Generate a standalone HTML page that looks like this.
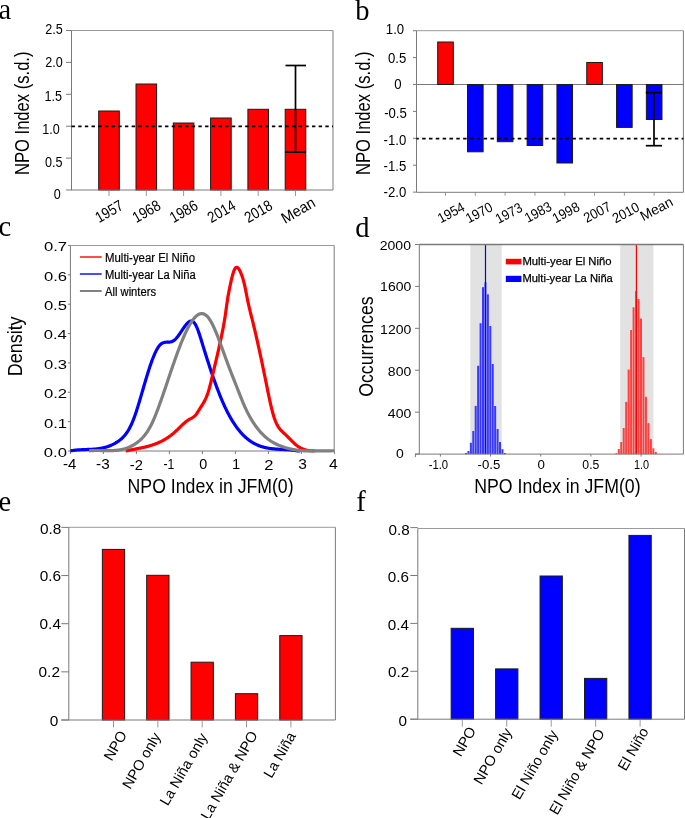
<!DOCTYPE html>
<html><head><meta charset="utf-8"><style>
html,body{margin:0;padding:0;background:#fff;width:685px;height:818px;overflow:hidden}
svg{display:block;will-change:transform}
</style></head><body>
<svg width="685" height="818" viewBox="0 0 685 818">
<rect x="0" y="0" width="685" height="818" fill="#fff"/>
<text x="-1.5" y="18.7" font-family="Liberation Serif" font-size="28.5" text-anchor="start" fill="#000">a</text>
<text x="355.2" y="19.7" font-family="Liberation Serif" font-size="28.5" text-anchor="start" fill="#000">b</text>
<text x="-1.5" y="236" font-family="Liberation Serif" font-size="28.5" text-anchor="start" fill="#000">c</text>
<text x="355.2" y="236.7" font-family="Liberation Serif" font-size="28.5" text-anchor="start" fill="#000">d</text>
<text x="-1.5" y="510.5" font-family="Liberation Serif" font-size="28.5" text-anchor="start" fill="#000">e</text>
<text x="356.2" y="510.6" font-family="Liberation Serif" font-size="28.5" text-anchor="start" fill="#000">f</text>
<line x1="71.5" y1="30.5" x2="333" y2="30.5" stroke="#9a9a9a" stroke-width="1" stroke-linecap="butt"/>
<line x1="333" y1="30.5" x2="333" y2="190" stroke="#7a7a7a" stroke-width="1" stroke-linecap="butt"/>
<line x1="71.5" y1="30.5" x2="71.5" y2="190" stroke="#7a7a7a" stroke-width="1" stroke-linecap="butt"/>
<line x1="66" y1="190.0" x2="71.5" y2="190.0" stroke="#7a7a7a" stroke-width="1" stroke-linecap="butt"/>
<text x="60.79" y="198.97" font-family="Liberation Sans" font-size="14" text-anchor="end" fill="#000" textLength="7.01" lengthAdjust="spacingAndGlyphs">0</text>
<line x1="66" y1="158.1" x2="71.5" y2="158.1" stroke="#7a7a7a" stroke-width="1" stroke-linecap="butt"/>
<text x="62.43" y="167.07" font-family="Liberation Sans" font-size="14" text-anchor="end" fill="#000" textLength="17.52" lengthAdjust="spacingAndGlyphs">0.5</text>
<line x1="66" y1="126.2" x2="71.5" y2="126.2" stroke="#7a7a7a" stroke-width="1" stroke-linecap="butt"/>
<text x="59.69" y="133.57" font-family="Liberation Sans" font-size="14" text-anchor="end" fill="#000" textLength="17.52" lengthAdjust="spacingAndGlyphs">1.0</text>
<line x1="66" y1="94.30000000000001" x2="71.5" y2="94.30000000000001" stroke="#7a7a7a" stroke-width="1" stroke-linecap="butt"/>
<text x="62.03" y="100.65" font-family="Liberation Sans" font-size="14" text-anchor="end" fill="#000" textLength="17.52" lengthAdjust="spacingAndGlyphs">1.5</text>
<line x1="66" y1="62.400000000000006" x2="71.5" y2="62.400000000000006" stroke="#7a7a7a" stroke-width="1" stroke-linecap="butt"/>
<text x="62.69" y="67.47" font-family="Liberation Sans" font-size="14" text-anchor="end" fill="#000" textLength="17.52" lengthAdjust="spacingAndGlyphs">2.0</text>
<line x1="66" y1="30.5" x2="71.5" y2="30.5" stroke="#7a7a7a" stroke-width="1" stroke-linecap="butt"/>
<text x="62.73" y="33.82" font-family="Liberation Sans" font-size="14" text-anchor="end" fill="#000" textLength="17.52" lengthAdjust="spacingAndGlyphs">2.5</text>
<rect x="98.7" y="111" width="20.6" height="79" fill="#ff0000" stroke="#1a1a1a" stroke-width="1"/>
<line x1="109.0" y1="190" x2="109.0" y2="196" stroke="#9a9a9a" stroke-width="1" stroke-linecap="butt"/>
<rect x="136.0" y="84" width="20.6" height="106" fill="#ff0000" stroke="#1a1a1a" stroke-width="1"/>
<line x1="146.3" y1="190" x2="146.3" y2="196" stroke="#9a9a9a" stroke-width="1" stroke-linecap="butt"/>
<rect x="173.29999999999998" y="123" width="20.6" height="67" fill="#ff0000" stroke="#1a1a1a" stroke-width="1"/>
<line x1="183.6" y1="190" x2="183.6" y2="196" stroke="#9a9a9a" stroke-width="1" stroke-linecap="butt"/>
<rect x="210.59999999999997" y="118" width="20.6" height="72" fill="#ff0000" stroke="#1a1a1a" stroke-width="1"/>
<line x1="220.89999999999998" y1="190" x2="220.89999999999998" y2="196" stroke="#9a9a9a" stroke-width="1" stroke-linecap="butt"/>
<rect x="247.89999999999998" y="109.3" width="20.6" height="80.7" fill="#ff0000" stroke="#1a1a1a" stroke-width="1"/>
<line x1="258.2" y1="190" x2="258.2" y2="196" stroke="#9a9a9a" stroke-width="1" stroke-linecap="butt"/>
<rect x="285.2" y="109.3" width="20.6" height="80.7" fill="#ff0000" stroke="#1a1a1a" stroke-width="1"/>
<line x1="295.5" y1="190" x2="295.5" y2="196" stroke="#9a9a9a" stroke-width="1" stroke-linecap="butt"/>
<line x1="71.0" y1="190" x2="333" y2="190" stroke="#7a7a7a" stroke-width="1" stroke-linecap="butt"/>
<line x1="71.5" y1="126.3" x2="333" y2="126.3" stroke="#000" stroke-width="1.8" stroke-dasharray="3.4,3.28" stroke-dashoffset="0" stroke-linecap="butt"/>
<line x1="295.5" y1="65.5" x2="295.5" y2="152.2" stroke="#000" stroke-width="1.7" stroke-linecap="butt"/>
<line x1="285.5" y1="65.5" x2="306" y2="65.5" stroke="#000" stroke-width="1.7" stroke-linecap="butt"/>
<line x1="285.5" y1="152.2" x2="306" y2="152.2" stroke="#000" stroke-width="1.7" stroke-linecap="butt"/>
<text x="0" y="0" transform="translate(29.2,175) rotate(-90)" font-family="Liberation Sans" font-size="21" text-anchor="start" fill="#000" textLength="123.5" lengthAdjust="spacingAndGlyphs">NPO Index (s.d.)</text>
<text x="0" y="0" transform="translate(124.5,208.5) rotate(-30)" font-family="Liberation Sans" font-size="15.5" text-anchor="end" fill="#000" textLength="29.5" lengthAdjust="spacingAndGlyphs">1957</text>
<text x="0" y="0" transform="translate(161.8,208.5) rotate(-30)" font-family="Liberation Sans" font-size="15.5" text-anchor="end" fill="#000" textLength="29.5" lengthAdjust="spacingAndGlyphs">1968</text>
<text x="0" y="0" transform="translate(199.1,208.5) rotate(-30)" font-family="Liberation Sans" font-size="15.5" text-anchor="end" fill="#000" textLength="29.5" lengthAdjust="spacingAndGlyphs">1986</text>
<text x="0" y="0" transform="translate(236.89999999999998,208.5) rotate(-30)" font-family="Liberation Sans" font-size="15.5" text-anchor="end" fill="#000" textLength="29.5" lengthAdjust="spacingAndGlyphs">2014</text>
<text x="0" y="0" transform="translate(273.7,208.5) rotate(-30)" font-family="Liberation Sans" font-size="15.5" text-anchor="end" fill="#000" textLength="29.5" lengthAdjust="spacingAndGlyphs">2018</text>
<text x="0" y="0" transform="translate(316.5,205.7) rotate(-30)" font-family="Liberation Sans" font-size="15.5" text-anchor="end" fill="#000" textLength="36.5" lengthAdjust="spacingAndGlyphs">Mean</text>
<line x1="416.5" y1="30.7" x2="683.4" y2="30.7" stroke="#9a9a9a" stroke-width="1" stroke-linecap="butt"/>
<line x1="683.4" y1="30.7" x2="683.4" y2="192.3" stroke="#7a7a7a" stroke-width="1" stroke-linecap="butt"/>
<line x1="416.5" y1="30.7" x2="416.5" y2="192.3" stroke="#7a7a7a" stroke-width="1" stroke-linecap="butt"/>
<line x1="413" y1="30.7" x2="416.5" y2="30.7" stroke="#7a7a7a" stroke-width="1" stroke-linecap="butt"/>
<text x="404.12" y="34.17" font-family="Liberation Sans" font-size="14" text-anchor="end" fill="#000" textLength="18.29" lengthAdjust="spacingAndGlyphs">1.0</text>
<line x1="413" y1="57.599999999999994" x2="416.5" y2="57.599999999999994" stroke="#7a7a7a" stroke-width="1" stroke-linecap="butt"/>
<text x="406.35" y="62.77" font-family="Liberation Sans" font-size="14" text-anchor="end" fill="#000" textLength="18.29" lengthAdjust="spacingAndGlyphs">0.5</text>
<line x1="413" y1="84.5" x2="416.5" y2="84.5" stroke="#7a7a7a" stroke-width="1" stroke-linecap="butt"/>
<text x="401.62" y="89.27" font-family="Liberation Sans" font-size="14" text-anchor="end" fill="#000" textLength="7.32" lengthAdjust="spacingAndGlyphs">0</text>
<line x1="413" y1="111.39999999999999" x2="416.5" y2="111.39999999999999" stroke="#7a7a7a" stroke-width="1" stroke-linecap="butt"/>
<text x="406.85" y="117.77" font-family="Liberation Sans" font-size="14" text-anchor="end" fill="#000" textLength="22.68" lengthAdjust="spacingAndGlyphs">-0.5</text>
<line x1="413" y1="138.29999999999998" x2="416.5" y2="138.29999999999998" stroke="#7a7a7a" stroke-width="1" stroke-linecap="butt"/>
<text x="406.22" y="144.67" font-family="Liberation Sans" font-size="14" text-anchor="end" fill="#000" textLength="22.68" lengthAdjust="spacingAndGlyphs">-1.0</text>
<line x1="413" y1="165.2" x2="416.5" y2="165.2" stroke="#7a7a7a" stroke-width="1" stroke-linecap="butt"/>
<text x="406.25" y="171.15" font-family="Liberation Sans" font-size="14" text-anchor="end" fill="#000" textLength="22.68" lengthAdjust="spacingAndGlyphs">-1.5</text>
<line x1="413" y1="192.09999999999997" x2="416.5" y2="192.09999999999997" stroke="#7a7a7a" stroke-width="1" stroke-linecap="butt"/>
<text x="406.22" y="197.22" font-family="Liberation Sans" font-size="14" text-anchor="end" fill="#000" textLength="22.68" lengthAdjust="spacingAndGlyphs">-2.0</text>
<line x1="416.5" y1="84.5" x2="683.4" y2="84.5" stroke="#7a7a7a" stroke-width="1" stroke-linecap="butt"/>
<rect x="437.7" y="42" width="15.6" height="42.5" fill="#ff0000" stroke="#1a1a1a" stroke-width="1"/>
<line x1="445.5" y1="192.3" x2="445.5" y2="195.8" stroke="#9a9a9a" stroke-width="1" stroke-linecap="butt"/>
<rect x="467.51" y="84.5" width="15.6" height="67.30000000000001" fill="#0000ff" stroke="#1a1a1a" stroke-width="1"/>
<line x1="475.31" y1="192.3" x2="475.31" y2="195.8" stroke="#9a9a9a" stroke-width="1" stroke-linecap="butt"/>
<rect x="497.32" y="84.5" width="15.6" height="57.19999999999999" fill="#0000ff" stroke="#1a1a1a" stroke-width="1"/>
<line x1="505.12" y1="192.3" x2="505.12" y2="195.8" stroke="#9a9a9a" stroke-width="1" stroke-linecap="butt"/>
<rect x="527.13" y="84.5" width="15.6" height="61.0" fill="#0000ff" stroke="#1a1a1a" stroke-width="1"/>
<line x1="534.93" y1="192.3" x2="534.93" y2="195.8" stroke="#9a9a9a" stroke-width="1" stroke-linecap="butt"/>
<rect x="556.94" y="84.5" width="15.6" height="78.5" fill="#0000ff" stroke="#1a1a1a" stroke-width="1"/>
<line x1="564.74" y1="192.3" x2="564.74" y2="195.8" stroke="#9a9a9a" stroke-width="1" stroke-linecap="butt"/>
<rect x="586.75" y="62.5" width="15.6" height="22.0" fill="#ff0000" stroke="#1a1a1a" stroke-width="1"/>
<line x1="594.55" y1="192.3" x2="594.55" y2="195.8" stroke="#9a9a9a" stroke-width="1" stroke-linecap="butt"/>
<rect x="616.5600000000001" y="84.5" width="15.6" height="42.900000000000006" fill="#0000ff" stroke="#1a1a1a" stroke-width="1"/>
<line x1="624.36" y1="192.3" x2="624.36" y2="195.8" stroke="#9a9a9a" stroke-width="1" stroke-linecap="butt"/>
<rect x="646.37" y="84.5" width="15.6" height="35.0" fill="#0000ff" stroke="#1a1a1a" stroke-width="1"/>
<line x1="654.17" y1="192.3" x2="654.17" y2="195.8" stroke="#9a9a9a" stroke-width="1" stroke-linecap="butt"/>
<line x1="416.5" y1="192.3" x2="683.4" y2="192.3" stroke="#7a7a7a" stroke-width="1" stroke-linecap="butt"/>
<line x1="416.5" y1="138.6" x2="683.4" y2="138.6" stroke="#000" stroke-width="1.8" stroke-dasharray="3.5,3.33" stroke-dashoffset="1.2" stroke-linecap="butt"/>
<line x1="654" y1="92.6" x2="654" y2="145.7" stroke="#000" stroke-width="1.7" stroke-linecap="butt"/>
<line x1="645.8" y1="92.6" x2="662" y2="92.6" stroke="#000" stroke-width="1.7" stroke-linecap="butt"/>
<line x1="645.8" y1="145.7" x2="662" y2="145.7" stroke="#000" stroke-width="1.7" stroke-linecap="butt"/>
<text x="0" y="0" transform="translate(369.6,175) rotate(-90)" font-family="Liberation Sans" font-size="21" text-anchor="start" fill="#000" textLength="123.5" lengthAdjust="spacingAndGlyphs">NPO Index (s.d.)</text>
<text x="0" y="0" transform="translate(465.8,210.1) rotate(-28)" font-family="Liberation Sans" font-size="14" text-anchor="end" fill="#000" textLength="28.5" lengthAdjust="spacingAndGlyphs">1954</text>
<text x="0" y="0" transform="translate(493.8,210.2) rotate(-28)" font-family="Liberation Sans" font-size="14" text-anchor="end" fill="#000" textLength="28.5" lengthAdjust="spacingAndGlyphs">1970</text>
<text x="0" y="0" transform="translate(523.5500000000001,210.7) rotate(-28)" font-family="Liberation Sans" font-size="14" text-anchor="end" fill="#000" textLength="28.5" lengthAdjust="spacingAndGlyphs">1973</text>
<text x="0" y="0" transform="translate(552.9,209.6) rotate(-28)" font-family="Liberation Sans" font-size="14" text-anchor="end" fill="#000" textLength="28.5" lengthAdjust="spacingAndGlyphs">1983</text>
<text x="0" y="0" transform="translate(580.7,210) rotate(-28)" font-family="Liberation Sans" font-size="14" text-anchor="end" fill="#000" textLength="28.5" lengthAdjust="spacingAndGlyphs">1998</text>
<text x="0" y="0" transform="translate(611.95,209.7) rotate(-28)" font-family="Liberation Sans" font-size="14" text-anchor="end" fill="#000" textLength="28.5" lengthAdjust="spacingAndGlyphs">2007</text>
<text x="0" y="0" transform="translate(640.65,210.2) rotate(-28)" font-family="Liberation Sans" font-size="14" text-anchor="end" fill="#000" textLength="28.5" lengthAdjust="spacingAndGlyphs">2010</text>
<text x="0" y="0" transform="translate(674.05,204.9) rotate(-28)" font-family="Liberation Sans" font-size="14" text-anchor="end" fill="#000" textLength="35" lengthAdjust="spacingAndGlyphs">Mean</text>
<clipPath id="cc"><rect x="70.4" y="245.5" width="263.79999999999995" height="207.5"/></clipPath>
<line x1="70.4" y1="245.5" x2="334.2" y2="245.5" stroke="#9a9a9a" stroke-width="1" stroke-linecap="butt"/>
<line x1="334.2" y1="245.5" x2="334.2" y2="451" stroke="#7a7a7a" stroke-width="1" stroke-linecap="butt"/>
<line x1="70.4" y1="245.5" x2="70.4" y2="451" stroke="#7a7a7a" stroke-width="1" stroke-linecap="butt"/>
<line x1="70.4" y1="451" x2="334.2" y2="451" stroke="#7a7a7a" stroke-width="1" stroke-linecap="butt"/>
<line x1="67.9" y1="451.0" x2="70.4" y2="451.0" stroke="#7a7a7a" stroke-width="1" stroke-linecap="butt"/>
<text x="66.95" y="456.91" font-family="Liberation Sans" font-size="13.4" text-anchor="end" fill="#000" textLength="23.1" lengthAdjust="spacingAndGlyphs">0.0</text>
<line x1="67.9" y1="421.64" x2="70.4" y2="421.64" stroke="#7a7a7a" stroke-width="1" stroke-linecap="butt"/>
<text x="67.12" y="427.55" font-family="Liberation Sans" font-size="13.4" text-anchor="end" fill="#000" textLength="23.1" lengthAdjust="spacingAndGlyphs">0.1</text>
<line x1="67.9" y1="392.28" x2="70.4" y2="392.28" stroke="#7a7a7a" stroke-width="1" stroke-linecap="butt"/>
<text x="67.13" y="398.19" font-family="Liberation Sans" font-size="13.4" text-anchor="end" fill="#000" textLength="23.1" lengthAdjust="spacingAndGlyphs">0.2</text>
<line x1="67.9" y1="362.92" x2="70.4" y2="362.92" stroke="#7a7a7a" stroke-width="1" stroke-linecap="butt"/>
<text x="67.03" y="368.83" font-family="Liberation Sans" font-size="13.4" text-anchor="end" fill="#000" textLength="23.1" lengthAdjust="spacingAndGlyphs">0.3</text>
<line x1="67.9" y1="333.56" x2="70.4" y2="333.56" stroke="#7a7a7a" stroke-width="1" stroke-linecap="butt"/>
<text x="66.78" y="339.47" font-family="Liberation Sans" font-size="13.4" text-anchor="end" fill="#000" textLength="23.1" lengthAdjust="spacingAndGlyphs">0.4</text>
<line x1="67.9" y1="304.2" x2="70.4" y2="304.2" stroke="#7a7a7a" stroke-width="1" stroke-linecap="butt"/>
<text x="67.0" y="310.11" font-family="Liberation Sans" font-size="13.4" text-anchor="end" fill="#000" textLength="23.1" lengthAdjust="spacingAndGlyphs">0.5</text>
<line x1="67.9" y1="274.84000000000003" x2="70.4" y2="274.84000000000003" stroke="#7a7a7a" stroke-width="1" stroke-linecap="butt"/>
<text x="67.03" y="280.75" font-family="Liberation Sans" font-size="13.4" text-anchor="end" fill="#000" textLength="23.1" lengthAdjust="spacingAndGlyphs">0.6</text>
<line x1="67.9" y1="245.48000000000002" x2="70.4" y2="245.48000000000002" stroke="#7a7a7a" stroke-width="1" stroke-linecap="butt"/>
<text x="67.13" y="251.39" font-family="Liberation Sans" font-size="13.4" text-anchor="end" fill="#000" textLength="23.1" lengthAdjust="spacingAndGlyphs">0.7</text>
<line x1="70.4" y1="451" x2="70.4" y2="454" stroke="#7a7a7a" stroke-width="1" stroke-linecap="butt"/>
<text x="69.69" y="469.45" font-family="Liberation Sans" font-size="14.4" text-anchor="middle" fill="#000" textLength="13.32" lengthAdjust="spacingAndGlyphs">-4</text>
<line x1="103.4" y1="451" x2="103.4" y2="454" stroke="#7a7a7a" stroke-width="1" stroke-linecap="butt"/>
<text x="102.9" y="469.45" font-family="Liberation Sans" font-size="14.4" text-anchor="middle" fill="#000" textLength="13.57" lengthAdjust="spacingAndGlyphs">-3</text>
<line x1="136.4" y1="451" x2="136.4" y2="454" stroke="#7a7a7a" stroke-width="1" stroke-linecap="butt"/>
<text x="136.4" y="469.53" font-family="Liberation Sans" font-size="14.4" text-anchor="middle" fill="#000" textLength="13.06" lengthAdjust="spacingAndGlyphs">-2</text>
<line x1="169.4" y1="451" x2="169.4" y2="454" stroke="#7a7a7a" stroke-width="1" stroke-linecap="butt"/>
<text x="168.83" y="469.45" font-family="Liberation Sans" font-size="14.4" text-anchor="middle" fill="#000" textLength="10.88" lengthAdjust="spacingAndGlyphs">-1</text>
<line x1="202.4" y1="451" x2="202.4" y2="454" stroke="#7a7a7a" stroke-width="1" stroke-linecap="butt"/>
<text x="203.15" y="469.45" font-family="Liberation Sans" font-size="14.4" text-anchor="middle" fill="#000" textLength="8.01" lengthAdjust="spacingAndGlyphs">0</text>
<line x1="235.4" y1="451" x2="235.4" y2="454" stroke="#7a7a7a" stroke-width="1" stroke-linecap="butt"/>
<text x="236.1" y="469.45" font-family="Liberation Sans" font-size="14.4" text-anchor="middle" fill="#000" textLength="8.25" lengthAdjust="spacingAndGlyphs">1</text>
<line x1="268.4" y1="451" x2="268.4" y2="454" stroke="#7a7a7a" stroke-width="1" stroke-linecap="butt"/>
<text x="268.9" y="469.53" font-family="Liberation Sans" font-size="14.4" text-anchor="middle" fill="#000" textLength="9.21" lengthAdjust="spacingAndGlyphs">2</text>
<line x1="301.4" y1="451" x2="301.4" y2="454" stroke="#7a7a7a" stroke-width="1" stroke-linecap="butt"/>
<text x="302.45" y="469.45" font-family="Liberation Sans" font-size="14.4" text-anchor="middle" fill="#000" textLength="8.65" lengthAdjust="spacingAndGlyphs">3</text>
<line x1="334.4" y1="451" x2="334.4" y2="454" stroke="#7a7a7a" stroke-width="1" stroke-linecap="butt"/>
<text x="333.4" y="469.45" font-family="Liberation Sans" font-size="14.4" text-anchor="middle" fill="#000" textLength="8.73" lengthAdjust="spacingAndGlyphs">4</text>
<g clip-path="url(#cc)" fill="none" stroke-width="3.2" stroke-linejoin="round">
<path d="M70.00,450.80 L70.50,450.80 L71.00,450.78 L71.50,450.69 L72.00,450.61 L72.50,450.53 L73.00,450.46 L73.50,450.39 L74.00,450.32 L74.50,450.26 L75.00,450.20 L75.50,450.15 L76.00,450.10 L76.50,450.05 L77.00,450.00 L77.50,449.96 L78.00,449.92 L78.50,449.89 L79.00,449.85 L79.50,449.82 L80.00,449.79 L80.50,449.76 L81.00,449.73 L81.50,449.71 L82.00,449.68 L82.50,449.66 L83.00,449.64 L83.50,449.62 L84.00,449.60 L84.50,449.58 L85.00,449.56 L85.50,449.55 L86.00,449.53 L86.50,449.51 L87.00,449.49 L87.50,449.47 L88.00,449.45 L88.50,449.43 L89.00,449.41 L89.50,449.39 L90.00,449.37 L90.50,449.35 L91.00,449.32 L91.50,449.29 L92.00,449.27 L92.50,449.24 L93.00,449.20 L93.50,449.17 L94.00,449.13 L94.50,449.09 L95.00,449.05 L95.50,449.00 L96.00,448.96 L96.50,448.90 L97.00,448.85 L97.50,448.79 L98.00,448.73 L98.50,448.66 L99.00,448.59 L99.50,448.52 L100.00,448.44 L100.50,448.36 L101.00,448.27 L101.50,448.18 L102.00,448.08 L102.50,447.98 L103.00,447.87 L103.50,447.76 L104.00,447.64 L104.50,447.52 L105.00,447.39 L105.50,447.25 L106.00,447.11 L106.50,446.96 L107.00,446.81 L107.50,446.65 L108.00,446.48 L108.50,446.30 L109.00,446.12 L109.50,445.93 L110.00,445.73 L110.50,445.53 L111.00,445.31 L111.50,445.09 L112.00,444.86 L112.50,444.63 L113.00,444.38 L113.50,444.13 L114.00,443.86 L114.50,443.59 L115.00,443.31 L115.50,443.02 L116.00,442.72 L116.50,442.41 L117.00,442.09 L117.50,441.76 L118.00,441.42 L118.50,441.08 L119.00,440.72 L119.50,440.34 L120.00,439.96 L120.50,439.55 L121.00,439.14 L121.50,438.70 L122.00,438.24 L122.50,437.77 L123.00,437.27 L123.50,436.75 L124.00,436.20 L124.50,435.63 L125.00,435.03 L125.50,434.40 L126.00,433.75 L126.50,433.06 L127.00,432.34 L127.50,431.59 L128.00,430.80 L128.50,429.97 L129.00,429.11 L129.50,428.20 L130.00,427.26 L130.50,426.28 L131.00,425.25 L131.50,424.18 L132.00,423.06 L132.50,421.90 L133.00,420.68 L133.50,419.42 L134.00,418.11 L134.50,416.75 L135.00,415.34 L135.50,413.90 L136.00,412.41 L136.50,410.89 L137.00,409.34 L137.50,407.75 L138.00,406.14 L138.50,404.51 L139.00,402.85 L139.50,401.18 L140.00,399.49 L140.50,397.79 L141.00,396.09 L141.50,394.37 L142.00,392.66 L142.50,390.94 L143.00,389.22 L143.50,387.51 L144.00,385.80 L144.50,384.10 L145.00,382.41 L145.50,380.72 L146.00,379.05 L146.50,377.39 L147.00,375.75 L147.50,374.13 L148.00,372.52 L148.50,370.94 L149.00,369.38 L149.50,367.85 L150.00,366.34 L150.50,364.87 L151.00,363.42 L151.50,362.01 L152.00,360.63 L152.50,359.29 L153.00,357.99 L153.50,356.73 L154.00,355.52 L154.50,354.34 L155.00,353.22 L155.50,352.14 L156.00,351.11 L156.50,350.14 L157.00,349.21 L157.50,348.35 L158.00,347.54 L158.50,346.80 L159.00,346.11 L159.50,345.49 L160.00,344.93 L160.50,344.44 L161.00,344.02 L161.50,343.65 L162.00,343.33 L162.50,343.07 L163.00,342.85 L163.50,342.67 L164.00,342.53 L164.50,342.42 L165.00,342.34 L165.50,342.28 L166.00,342.23 L166.50,342.20 L167.00,342.18 L167.50,342.17 L168.00,342.16 L168.50,342.14 L169.00,342.11 L169.50,342.07 L170.00,342.01 L170.50,341.93 L171.00,341.82 L171.50,341.69 L172.00,341.51 L172.50,341.30 L173.00,341.04 L173.50,340.73 L174.00,340.38 L174.50,339.98 L175.00,339.54 L175.50,339.06 L176.00,338.54 L176.50,337.99 L177.00,337.40 L177.50,336.79 L178.00,336.15 L178.50,335.49 L179.00,334.81 L179.50,334.11 L180.00,333.39 L180.50,332.66 L181.00,331.92 L181.50,331.18 L182.00,330.43 L182.50,329.67 L183.00,328.92 L183.50,328.18 L184.00,327.45 L184.50,326.74 L185.00,326.04 L185.50,325.37 L186.00,324.74 L186.50,324.14 L187.00,323.57 L187.50,323.06 L188.00,322.59 L188.50,322.17 L189.00,321.82 L189.50,321.52 L190.00,321.30 L190.50,321.15 L191.00,321.07 L191.50,321.08 L192.00,321.17 L192.50,321.36 L193.00,321.64 L193.50,322.02 L194.00,322.51 L194.50,323.11 L195.00,323.82 L195.50,324.65 L196.00,325.59 L196.50,326.64 L197.00,327.77 L197.50,329.00 L198.00,330.30 L198.50,331.68 L199.00,333.11 L199.50,334.60 L200.00,336.14 L200.50,337.71 L201.00,339.31 L201.50,340.94 L202.00,342.57 L202.50,344.21 L203.00,345.85 L203.50,347.48 L204.00,349.10 L204.50,350.71 L205.00,352.32 L205.50,353.92 L206.00,355.51 L206.50,357.09 L207.00,358.67 L207.50,360.23 L208.00,361.78 L208.50,363.33 L209.00,364.86 L209.50,366.38 L210.00,367.90 L210.50,369.40 L211.00,370.89 L211.50,372.37 L212.00,373.84 L212.50,375.30 L213.00,376.74 L213.50,378.17 L214.00,379.59 L214.50,381.00 L215.00,382.39 L215.50,383.77 L216.00,385.14 L216.50,386.49 L217.00,387.83 L217.50,389.15 L218.00,390.46 L218.50,391.76 L219.00,393.03 L219.50,394.30 L220.00,395.54 L220.50,396.78 L221.00,397.99 L221.50,399.19 L222.00,400.37 L222.50,401.53 L223.00,402.68 L223.50,403.81 L224.00,404.92 L224.50,406.01 L225.00,407.08 L225.50,408.14 L226.00,409.18 L226.50,410.20 L227.00,411.20 L227.50,412.18 L228.00,413.15 L228.50,414.10 L229.00,415.03 L229.50,415.95 L230.00,416.85 L230.50,417.73 L231.00,418.60 L231.50,419.44 L232.00,420.28 L232.50,421.10 L233.00,421.90 L233.50,422.68 L234.00,423.45 L234.50,424.21 L235.00,424.95 L235.50,425.67 L236.00,426.38 L236.50,427.07 L237.00,427.76 L237.50,428.42 L238.00,429.07 L238.50,429.71 L239.00,430.33 L239.50,430.94 L240.00,431.54 L240.50,432.12 L241.00,432.69 L241.50,433.25 L242.00,433.79 L242.50,434.32 L243.00,434.84 L243.50,435.35 L244.00,435.84 L244.50,436.32 L245.00,436.79 L245.50,437.25 L246.00,437.69 L246.50,438.12 L247.00,438.55 L247.50,438.96 L248.00,439.36 L248.50,439.75 L249.00,440.13 L249.50,440.49 L250.00,440.85 L250.50,441.20 L251.00,441.54 L251.50,441.86 L252.00,442.18 L252.50,442.49 L253.00,442.79 L253.50,443.08 L254.00,443.36 L254.50,443.63 L255.00,443.89 L255.50,444.14 L256.00,444.39 L256.50,444.63 L257.00,444.86 L257.50,445.08 L258.00,445.29 L258.50,445.49 L259.00,445.69 L259.50,445.88 L260.00,446.06 L260.50,446.24 L261.00,446.41 L261.50,446.57 L262.00,446.73 L262.50,446.88 L263.00,447.02 L263.50,447.16 L264.00,447.29 L264.50,447.41 L265.00,447.53 L265.50,447.65 L266.00,447.76 L266.50,447.86 L267.00,447.96 L267.50,448.05 L268.00,448.14 L268.50,448.23 L269.00,448.31 L269.50,448.38 L270.00,448.46 L270.50,448.53 L271.00,448.59 L271.50,448.65 L272.00,448.71 L272.50,448.76 L273.00,448.82 L273.50,448.86 L274.00,448.91 L274.50,448.95 L275.00,449.00 L275.50,449.03 L276.00,449.07 L276.50,449.11 L277.00,449.14 L277.50,449.17 L278.00,449.20 L278.50,449.23 L279.00,449.26 L279.50,449.28 L280.00,449.31 L280.50,449.33 L281.00,449.36 L281.50,449.38 L282.00,449.41 L282.50,449.43 L283.00,449.46 L283.50,449.48 L284.00,449.50 L284.50,449.53 L285.00,449.56 L285.50,449.58 L286.00,449.61 L286.50,449.64 L287.00,449.67 L287.50,449.71 L288.00,449.74 L288.50,449.78 L289.00,449.82 L289.50,449.86 L290.00,449.90 L290.50,449.95 L291.00,449.99 L291.50,450.05 L292.00,450.10 L292.50,450.16 L293.00,450.22 L293.50,450.28 L294.00,450.35 L294.50,450.42 L295.00,450.50 L295.50,450.58 L296.00,450.66 L296.50,450.75 L297.00,450.80 L297.50,450.80 L298.00,450.80 L298.50,450.80 L299.00,450.80 L299.50,450.80 L300.00,450.80" stroke="#0000ff"/>
<path d="M125.80,450.80 L126.30,450.80 L126.80,450.77 L127.30,450.66 L127.80,450.56 L128.30,450.45 L128.80,450.35 L129.30,450.24 L129.80,450.14 L130.30,450.04 L130.80,449.94 L131.30,449.84 L131.80,449.74 L132.30,449.65 L132.80,449.55 L133.30,449.45 L133.80,449.36 L134.30,449.26 L134.80,449.16 L135.30,449.07 L135.80,448.97 L136.30,448.88 L136.80,448.78 L137.30,448.68 L137.80,448.58 L138.30,448.49 L138.80,448.39 L139.30,448.29 L139.80,448.19 L140.30,448.08 L140.80,447.98 L141.30,447.88 L141.80,447.77 L142.30,447.66 L142.80,447.55 L143.30,447.44 L143.80,447.33 L144.30,447.21 L144.80,447.10 L145.30,446.98 L145.80,446.85 L146.30,446.73 L146.80,446.60 L147.30,446.48 L147.80,446.34 L148.30,446.21 L148.80,446.07 L149.30,445.93 L149.80,445.79 L150.30,445.64 L150.80,445.49 L151.30,445.33 L151.80,445.18 L152.30,445.01 L152.80,444.85 L153.30,444.68 L153.80,444.51 L154.30,444.33 L154.80,444.15 L155.30,443.96 L155.80,443.77 L156.30,443.57 L156.80,443.37 L157.30,443.17 L157.80,442.96 L158.30,442.75 L158.80,442.53 L159.30,442.30 L159.80,442.07 L160.30,441.83 L160.80,441.59 L161.30,441.34 L161.80,441.09 L162.30,440.83 L162.80,440.57 L163.30,440.30 L163.80,440.02 L164.30,439.74 L164.80,439.44 L165.30,439.15 L165.80,438.84 L166.30,438.53 L166.80,438.22 L167.30,437.89 L167.80,437.56 L168.30,437.22 L168.80,436.88 L169.30,436.52 L169.80,436.16 L170.30,435.79 L170.80,435.42 L171.30,435.03 L171.80,434.64 L172.30,434.24 L172.80,433.83 L173.30,433.42 L173.80,432.99 L174.30,432.56 L174.80,432.12 L175.30,431.67 L175.80,431.21 L176.30,430.74 L176.80,430.26 L177.30,429.78 L177.80,429.30 L178.30,428.81 L178.80,428.32 L179.30,427.83 L179.80,427.34 L180.30,426.85 L180.80,426.36 L181.30,425.88 L181.80,425.40 L182.30,424.92 L182.80,424.45 L183.30,423.99 L183.80,423.54 L184.30,423.10 L184.80,422.67 L185.30,422.25 L185.80,421.84 L186.30,421.45 L186.80,421.07 L187.30,420.71 L187.80,420.37 L188.30,420.04 L188.80,419.74 L189.30,419.45 L189.80,419.17 L190.30,418.89 L190.80,418.62 L191.30,418.34 L191.80,418.05 L192.30,417.75 L192.80,417.43 L193.30,417.08 L193.80,416.70 L194.30,416.28 L194.80,415.82 L195.30,415.32 L195.80,414.76 L196.30,414.15 L196.80,413.48 L197.30,412.76 L197.80,412.00 L198.30,411.20 L198.80,410.39 L199.30,409.56 L199.80,408.74 L200.30,407.93 L200.80,407.14 L201.30,406.35 L201.80,405.57 L202.30,404.78 L202.80,403.97 L203.30,403.14 L203.80,402.28 L204.30,401.38 L204.80,400.43 L205.30,399.43 L205.80,398.36 L206.30,397.22 L206.80,395.99 L207.30,394.68 L207.80,393.27 L208.30,391.75 L208.80,390.11 L209.30,388.36 L209.80,386.51 L210.30,384.56 L210.80,382.55 L211.30,380.48 L211.80,378.38 L212.30,376.25 L212.80,374.13 L213.30,372.01 L213.80,369.91 L214.30,367.81 L214.80,365.71 L215.30,363.61 L215.80,361.50 L216.30,359.39 L216.80,357.26 L217.30,355.12 L217.80,352.96 L218.30,350.78 L218.80,348.58 L219.30,346.34 L219.80,344.08 L220.30,341.78 L220.80,339.44 L221.30,337.06 L221.80,334.63 L222.30,332.16 L222.80,329.64 L223.30,327.04 L223.80,324.33 L224.30,321.48 L224.80,318.43 L225.30,315.16 L225.80,311.64 L226.30,308.00 L226.80,304.38 L227.30,300.92 L227.80,297.76 L228.30,294.87 L228.80,292.19 L229.30,289.63 L229.80,287.14 L230.30,284.72 L230.80,282.39 L231.30,280.16 L231.80,278.05 L232.30,276.09 L232.80,274.28 L233.30,272.64 L233.80,271.20 L234.30,269.98 L234.80,268.98 L235.30,268.22 L235.80,267.71 L236.30,267.42 L236.80,267.35 L237.30,267.47 L237.80,267.78 L238.30,268.27 L238.80,268.91 L239.30,269.70 L239.80,270.63 L240.30,271.67 L240.80,272.82 L241.30,274.06 L241.80,275.39 L242.30,276.82 L242.80,278.38 L243.30,280.06 L243.80,281.89 L244.30,283.88 L244.80,286.04 L245.30,288.38 L245.80,290.88 L246.30,293.46 L246.80,296.06 L247.30,298.62 L247.80,301.08 L248.30,303.43 L248.80,305.68 L249.30,307.84 L249.80,309.94 L250.30,311.99 L250.80,314.00 L251.30,315.99 L251.80,317.97 L252.30,319.95 L252.80,321.96 L253.30,323.99 L253.80,326.05 L254.30,328.12 L254.80,330.22 L255.30,332.35 L255.80,334.49 L256.30,336.66 L256.80,338.85 L257.30,341.06 L257.80,343.29 L258.30,345.54 L258.80,347.81 L259.30,350.10 L259.80,352.40 L260.30,354.72 L260.80,357.06 L261.30,359.41 L261.80,361.78 L262.30,364.17 L262.80,366.56 L263.30,368.97 L263.80,371.39 L264.30,373.83 L264.80,376.27 L265.30,378.73 L265.80,381.19 L266.30,383.67 L266.80,386.14 L267.30,388.61 L267.80,391.06 L268.30,393.49 L268.80,395.89 L269.30,398.26 L269.80,400.57 L270.30,402.83 L270.80,405.03 L271.30,407.16 L271.80,409.21 L272.30,411.17 L272.80,413.04 L273.30,414.80 L273.80,416.46 L274.30,418.00 L274.80,419.43 L275.30,420.76 L275.80,421.98 L276.30,423.12 L276.80,424.17 L277.30,425.14 L277.80,426.03 L278.30,426.86 L278.80,427.62 L279.30,428.33 L279.80,428.98 L280.30,429.59 L280.80,430.16 L281.30,430.69 L281.80,431.20 L282.30,431.69 L282.80,432.16 L283.30,432.62 L283.80,433.07 L284.30,433.53 L284.80,433.99 L285.30,434.47 L285.80,434.95 L286.30,435.44 L286.80,435.93 L287.30,436.43 L287.80,436.93 L288.30,437.44 L288.80,437.95 L289.30,438.46 L289.80,438.97 L290.30,439.47 L290.80,439.98 L291.30,440.48 L291.80,440.98 L292.30,441.47 L292.80,441.96 L293.30,442.43 L293.80,442.90 L294.30,443.36 L294.80,443.81 L295.30,444.25 L295.80,444.67 L296.30,445.08 L296.80,445.48 L297.30,445.86 L297.80,446.22 L298.30,446.57 L298.80,446.90 L299.30,447.22 L299.80,447.52 L300.30,447.80 L300.80,448.07 L301.30,448.32 L301.80,448.56 L302.30,448.79 L302.80,449.00 L303.30,449.20 L303.80,449.38 L304.30,449.55 L304.80,449.71 L305.30,449.86 L305.80,450.00 L306.30,450.12 L306.80,450.23 L307.30,450.33 L307.80,450.43 L308.30,450.51 L308.80,450.58 L309.30,450.64 L309.80,450.69 L310.30,450.73 L310.80,450.77 L311.30,450.79 L311.80,450.80 L312.30,450.80 L312.80,450.80 L313.30,450.80 L313.80,450.80 L314.30,450.78 L314.80,450.76" stroke="#ff0000"/>
<path d="M89.00,450.80 L89.50,450.78 L90.00,450.74 L90.50,450.70 L91.00,450.66 L91.50,450.63 L92.00,450.60 L92.50,450.58 L93.00,450.56 L93.50,450.54 L94.00,450.53 L94.50,450.52 L95.00,450.51 L95.50,450.50 L96.00,450.49 L96.50,450.49 L97.00,450.49 L97.50,450.49 L98.00,450.50 L98.50,450.50 L99.00,450.51 L99.50,450.51 L100.00,450.52 L100.50,450.53 L101.00,450.54 L101.50,450.55 L102.00,450.56 L102.50,450.57 L103.00,450.58 L103.50,450.59 L104.00,450.60 L104.50,450.61 L105.00,450.62 L105.50,450.63 L106.00,450.64 L106.50,450.64 L107.00,450.65 L107.50,450.65 L108.00,450.66 L108.50,450.66 L109.00,450.66 L109.50,450.65 L110.00,450.65 L110.50,450.64 L111.00,450.63 L111.50,450.62 L112.00,450.60 L112.50,450.58 L113.00,450.56 L113.50,450.53 L114.00,450.50 L114.50,450.47 L115.00,450.44 L115.50,450.40 L116.00,450.35 L116.50,450.30 L117.00,450.25 L117.50,450.19 L118.00,450.13 L118.50,450.06 L119.00,449.99 L119.50,449.91 L120.00,449.83 L120.50,449.74 L121.00,449.64 L121.50,449.54 L122.00,449.44 L122.50,449.32 L123.00,449.20 L123.50,449.08 L124.00,448.95 L124.50,448.81 L125.00,448.66 L125.50,448.51 L126.00,448.35 L126.50,448.18 L127.00,448.00 L127.50,447.82 L128.00,447.63 L128.50,447.43 L129.00,447.22 L129.50,447.00 L130.00,446.78 L130.50,446.54 L131.00,446.30 L131.50,446.05 L132.00,445.79 L132.50,445.52 L133.00,445.23 L133.50,444.94 L134.00,444.64 L134.50,444.33 L135.00,444.01 L135.50,443.68 L136.00,443.34 L136.50,442.99 L137.00,442.63 L137.50,442.25 L138.00,441.87 L138.50,441.47 L139.00,441.06 L139.50,440.64 L140.00,440.20 L140.50,439.74 L141.00,439.27 L141.50,438.79 L142.00,438.28 L142.50,437.76 L143.00,437.22 L143.50,436.65 L144.00,436.07 L144.50,435.46 L145.00,434.84 L145.50,434.19 L146.00,433.51 L146.50,432.81 L147.00,432.09 L147.50,431.33 L148.00,430.55 L148.50,429.75 L149.00,428.91 L149.50,428.05 L150.00,427.15 L150.50,426.22 L151.00,425.26 L151.50,424.27 L152.00,423.24 L152.50,422.19 L153.00,421.10 L153.50,419.98 L154.00,418.83 L154.50,417.66 L155.00,416.46 L155.50,415.23 L156.00,413.98 L156.50,412.71 L157.00,411.42 L157.50,410.10 L158.00,408.77 L158.50,407.42 L159.00,406.06 L159.50,404.68 L160.00,403.29 L160.50,401.88 L161.00,400.47 L161.50,399.04 L162.00,397.61 L162.50,396.17 L163.00,394.72 L163.50,393.26 L164.00,391.80 L164.50,390.34 L165.00,388.87 L165.50,387.40 L166.00,385.92 L166.50,384.44 L167.00,382.96 L167.50,381.48 L168.00,380.00 L168.50,378.52 L169.00,377.04 L169.50,375.56 L170.00,374.09 L170.50,372.61 L171.00,371.14 L171.50,369.68 L172.00,368.21 L172.50,366.76 L173.00,365.31 L173.50,363.87 L174.00,362.43 L174.50,361.00 L175.00,359.58 L175.50,358.17 L176.00,356.77 L176.50,355.39 L177.00,354.01 L177.50,352.64 L178.00,351.29 L178.50,349.95 L179.00,348.62 L179.50,347.31 L180.00,346.01 L180.50,344.73 L181.00,343.46 L181.50,342.21 L182.00,340.98 L182.50,339.77 L183.00,338.58 L183.50,337.40 L184.00,336.25 L184.50,335.12 L185.00,334.01 L185.50,332.92 L186.00,331.85 L186.50,330.81 L187.00,329.79 L187.50,328.79 L188.00,327.82 L188.50,326.88 L189.00,325.97 L189.50,325.08 L190.00,324.22 L190.50,323.38 L191.00,322.58 L191.50,321.81 L192.00,321.06 L192.50,320.35 L193.00,319.67 L193.50,319.02 L194.00,318.41 L194.50,317.83 L195.00,317.28 L195.50,316.77 L196.00,316.30 L196.50,315.86 L197.00,315.45 L197.50,315.09 L198.00,314.76 L198.50,314.48 L199.00,314.23 L199.50,314.02 L200.00,313.85 L200.50,313.73 L201.00,313.64 L201.50,313.60 L202.00,313.60 L202.50,313.65 L203.00,313.74 L203.50,313.88 L204.00,314.06 L204.50,314.29 L205.00,314.57 L205.50,314.89 L206.00,315.26 L206.50,315.68 L207.00,316.16 L207.50,316.68 L208.00,317.25 L208.50,317.87 L209.00,318.55 L209.50,319.27 L210.00,320.03 L210.50,320.85 L211.00,321.70 L211.50,322.59 L212.00,323.53 L212.50,324.50 L213.00,325.51 L213.50,326.55 L214.00,327.62 L214.50,328.73 L215.00,329.87 L215.50,331.03 L216.00,332.22 L216.50,333.43 L217.00,334.67 L217.50,335.93 L218.00,337.21 L218.50,338.51 L219.00,339.82 L219.50,341.15 L220.00,342.49 L220.50,343.84 L221.00,345.20 L221.50,346.58 L222.00,347.95 L222.50,349.34 L223.00,350.72 L223.50,352.11 L224.00,353.50 L224.50,354.89 L225.00,356.27 L225.50,357.65 L226.00,359.02 L226.50,360.38 L227.00,361.74 L227.50,363.08 L228.00,364.42 L228.50,365.75 L229.00,367.07 L229.50,368.38 L230.00,369.68 L230.50,370.98 L231.00,372.27 L231.50,373.56 L232.00,374.84 L232.50,376.12 L233.00,377.39 L233.50,378.66 L234.00,379.93 L234.50,381.20 L235.00,382.46 L235.50,383.73 L236.00,384.99 L236.50,386.25 L237.00,387.51 L237.50,388.78 L238.00,390.04 L238.50,391.31 L239.00,392.58 L239.50,393.85 L240.00,395.13 L240.50,396.40 L241.00,397.67 L241.50,398.93 L242.00,400.18 L242.50,401.41 L243.00,402.62 L243.50,403.81 L244.00,404.97 L244.50,406.10 L245.00,407.21 L245.50,408.29 L246.00,409.35 L246.50,410.39 L247.00,411.41 L247.50,412.40 L248.00,413.37 L248.50,414.32 L249.00,415.25 L249.50,416.17 L250.00,417.06 L250.50,417.94 L251.00,418.80 L251.50,419.64 L252.00,420.47 L252.50,421.27 L253.00,422.07 L253.50,422.84 L254.00,423.60 L254.50,424.34 L255.00,425.07 L255.50,425.78 L256.00,426.47 L256.50,427.15 L257.00,427.82 L257.50,428.47 L258.00,429.10 L258.50,429.72 L259.00,430.33 L259.50,430.92 L260.00,431.50 L260.50,432.07 L261.00,432.62 L261.50,433.16 L262.00,433.68 L262.50,434.20 L263.00,434.70 L263.50,435.18 L264.00,435.66 L264.50,436.12 L265.00,436.58 L265.50,437.02 L266.00,437.45 L266.50,437.87 L267.00,438.27 L267.50,438.67 L268.00,439.06 L268.50,439.44 L269.00,439.80 L269.50,440.16 L270.00,440.51 L270.50,440.84 L271.00,441.17 L271.50,441.49 L272.00,441.81 L272.50,442.11 L273.00,442.40 L273.50,442.69 L274.00,442.97 L274.50,443.24 L275.00,443.50 L275.50,443.76 L276.00,444.01 L276.50,444.25 L277.00,444.49 L277.50,444.72 L278.00,444.94 L278.50,445.16 L279.00,445.37 L279.50,445.58 L280.00,445.78 L280.50,445.97 L281.00,446.16 L281.50,446.35 L282.00,446.53 L282.50,446.71 L283.00,446.88 L283.50,447.05 L284.00,447.22 L284.50,447.38 L285.00,447.53 L285.50,447.68 L286.00,447.83 L286.50,447.97 L287.00,448.11 L287.50,448.25 L288.00,448.38 L288.50,448.51 L289.00,448.63 L289.50,448.75 L290.00,448.87 L290.50,448.98 L291.00,449.09 L291.50,449.19 L292.00,449.30 L292.50,449.40 L293.00,449.49 L293.50,449.58 L294.00,449.67 L294.50,449.76 L295.00,449.84 L295.50,449.92 L296.00,449.99 L296.50,450.07 L297.00,450.14 L297.50,450.20 L298.00,450.27 L298.50,450.33 L299.00,450.39 L299.50,450.44 L300.00,450.50 L300.50,450.55 L301.00,450.59 L301.50,450.64 L302.00,450.68 L302.50,450.72 L303.00,450.76 L303.50,450.80 L304.00,450.80 L304.50,450.80 L305.00,450.80 L305.50,450.80 L306.00,450.80 L306.50,450.80 L307.00,450.80 L307.50,450.80 L308.00,450.80 L308.50,450.80 L309.00,450.80 L309.50,450.80 L310.00,450.80 L310.50,450.80 L311.00,450.80 L311.50,450.80 L312.00,450.80 L312.50,450.80 L313.00,450.80 L313.50,450.80 L314.00,450.80 L314.50,450.80 L315.00,450.80 L315.50,450.80 L316.00,450.80 L316.50,450.80 L317.00,450.80 L317.50,450.80 L318.00,450.80 L318.50,450.80 L319.00,450.80 L319.50,450.80 L320.00,450.80 L320.50,450.80 L321.00,450.80 L321.50,450.80 L322.00,450.80 L322.50,450.80 L323.00,450.80 L323.50,450.80 L324.00,450.80 L324.50,450.80 L325.00,450.80 L325.50,450.80 L326.00,450.80 L326.50,450.80 L327.00,450.80 L327.50,450.80 L328.00,450.80 L328.50,450.80 L329.00,450.80 L329.50,450.80 L330.00,450.80 L330.50,450.79 L331.00,450.78 L331.50,450.77 L332.00,450.76 L332.50,450.76 L333.00,450.75 L333.50,450.74 L334.00,450.74 L334.50,450.73 L335.00,450.73 L335.50,450.73 L336.00,450.73" stroke="#808080"/>
</g>
<line x1="79.9" y1="257" x2="101.7" y2="257" stroke="#ff2020" stroke-width="1.6" stroke-linecap="butt"/>
<text x="105" y="261.6" font-family="Liberation Sans" font-size="12" text-anchor="start" fill="#000" textLength="90.0" lengthAdjust="spacingAndGlyphs" stroke="#000" stroke-width="0.2">Multi-year El Niño</text>
<line x1="79.9" y1="274" x2="101.7" y2="274" stroke="#2020ff" stroke-width="1.6" stroke-linecap="butt"/>
<text x="105" y="278.6" font-family="Liberation Sans" font-size="12" text-anchor="start" fill="#000" textLength="90.7" lengthAdjust="spacingAndGlyphs" stroke="#000" stroke-width="0.2">Multi-year La Niña</text>
<line x1="79.9" y1="291" x2="101.7" y2="291" stroke="#808080" stroke-width="2" stroke-linecap="butt"/>
<text x="105" y="295.6" font-family="Liberation Sans" font-size="12" text-anchor="start" fill="#000" textLength="51.0" lengthAdjust="spacingAndGlyphs" stroke="#000" stroke-width="0.2">All winters</text>
<text x="0" y="0" transform="translate(22.2,376.2) rotate(-90)" font-family="Liberation Sans" font-size="20" text-anchor="start" fill="#000" textLength="59.8" lengthAdjust="spacingAndGlyphs">Density</text>
<text x="127.6" y="492.6" font-family="Liberation Sans" font-size="20" text-anchor="start" fill="#000" textLength="166" lengthAdjust="spacingAndGlyphs">NPO Index in JFM(0)</text>
<rect x="470.3" y="244.5" width="31.4" height="209.60000000000002" fill="#e2e2e2"/>
<rect x="620.2" y="244.5" width="33.2" height="209.60000000000002" fill="#e2e2e2"/>
<rect x="465.0" y="453" width="2.0" height="1.1000000000000227" fill="#3838ff"/>
<rect x="467.43" y="451" width="2.0" height="3.1000000000000227" fill="#3838ff"/>
<rect x="469.86" y="442.8" width="2.0" height="11.300000000000011" fill="#3838ff"/>
<rect x="472.29" y="431" width="2.0" height="23.100000000000023" fill="#3838ff"/>
<rect x="474.72" y="405.9" width="2.0" height="48.200000000000045" fill="#3838ff"/>
<rect x="477.15" y="365.8" width="2.0" height="88.30000000000001" fill="#3838ff"/>
<rect x="479.58" y="323.2" width="2.0" height="130.90000000000003" fill="#3838ff"/>
<rect x="482.01" y="287.2" width="2.0" height="166.90000000000003" fill="#3838ff"/>
<rect x="484.44" y="282.3" width="2.0" height="171.8" fill="#3838ff"/>
<rect x="486.87" y="294.3" width="2.0" height="159.8" fill="#3838ff"/>
<rect x="489.3" y="326" width="2.0" height="128.10000000000002" fill="#3838ff"/>
<rect x="491.73" y="364" width="2.0" height="90.10000000000002" fill="#3838ff"/>
<rect x="494.16" y="406" width="2.0" height="48.10000000000002" fill="#3838ff"/>
<rect x="496.59000000000003" y="429" width="2.0" height="25.100000000000023" fill="#3838ff"/>
<rect x="499.02" y="442" width="2.0" height="12.100000000000023" fill="#3838ff"/>
<rect x="501.45" y="449.2" width="2.0" height="4.900000000000034" fill="#3838ff"/>
<rect x="503.88" y="453" width="2.0" height="1.1000000000000227" fill="#3838ff"/>
<rect x="615.3" y="453.3" width="2.0" height="0.8000000000000114" fill="#ff4040"/>
<rect x="617.77" y="449" width="2.0" height="5.100000000000023" fill="#ff4040"/>
<rect x="620.24" y="442" width="2.0" height="12.100000000000023" fill="#ff4040"/>
<rect x="622.7099999999999" y="428" width="2.0" height="26.100000000000023" fill="#ff4040"/>
<rect x="625.18" y="401.9" width="2.0" height="52.200000000000045" fill="#ff4040"/>
<rect x="627.65" y="369.5" width="2.0" height="84.60000000000002" fill="#ff4040"/>
<rect x="630.12" y="330" width="2.0" height="124.10000000000002" fill="#ff4040"/>
<rect x="632.5899999999999" y="307.3" width="2.0" height="146.8" fill="#ff4040"/>
<rect x="635.06" y="291.1" width="2.0" height="163.0" fill="#ff4040"/>
<rect x="637.53" y="299.1" width="2.0" height="155.0" fill="#ff4040"/>
<rect x="640.0" y="318.6" width="2.0" height="135.5" fill="#ff4040"/>
<rect x="642.4699999999999" y="357.1" width="2.0" height="97.0" fill="#ff4040"/>
<rect x="644.9399999999999" y="396.8" width="2.0" height="57.30000000000001" fill="#ff4040"/>
<rect x="647.41" y="423.1" width="2.0" height="31.0" fill="#ff4040"/>
<rect x="649.88" y="439.1" width="2.0" height="15.0" fill="#ff4040"/>
<rect x="652.3499999999999" y="448.3" width="2.0" height="5.800000000000011" fill="#ff4040"/>
<rect x="654.8199999999999" y="452" width="2.0" height="2.1000000000000227" fill="#ff4040"/>
<line x1="485.5" y1="244.5" x2="485.5" y2="454.1" stroke="#0000ff" stroke-width="1.2" stroke-linecap="butt"/>
<line x1="636.4" y1="244.5" x2="636.4" y2="454.1" stroke="#ff0000" stroke-width="1.2" stroke-linecap="butt"/>
<line x1="419.3" y1="244.5" x2="683.4" y2="244.5" stroke="#7a7a7a" stroke-width="1.5" stroke-linecap="butt"/>
<line x1="683.4" y1="244.5" x2="683.4" y2="454.1" stroke="#7a7a7a" stroke-width="1" stroke-linecap="butt"/>
<line x1="419.3" y1="244.5" x2="419.3" y2="454.1" stroke="#7a7a7a" stroke-width="1" stroke-linecap="butt"/>
<line x1="415" y1="454.1" x2="683.4" y2="454.1" stroke="#7a7a7a" stroke-width="1" stroke-linecap="butt"/>
<line x1="415.4" y1="454.1" x2="415.4" y2="457.1" stroke="#7a7a7a" stroke-width="1" stroke-linecap="butt"/>
<line x1="415" y1="454.1" x2="419.3" y2="454.1" stroke="#7a7a7a" stroke-width="1" stroke-linecap="butt"/>
<text x="403.85" y="457.88" font-family="Liberation Sans" font-size="13.6" text-anchor="end" fill="#000" textLength="7.79" lengthAdjust="spacingAndGlyphs">0</text>
<line x1="415" y1="412.18" x2="419.3" y2="412.18" stroke="#7a7a7a" stroke-width="1" stroke-linecap="butt"/>
<text x="411.25" y="417.78" font-family="Liberation Sans" font-size="13.6" text-anchor="end" fill="#000" textLength="23.37" lengthAdjust="spacingAndGlyphs">400</text>
<line x1="415" y1="370.26" x2="419.3" y2="370.26" stroke="#7a7a7a" stroke-width="1" stroke-linecap="butt"/>
<text x="411.25" y="375.98" font-family="Liberation Sans" font-size="13.6" text-anchor="end" fill="#000" textLength="23.37" lengthAdjust="spacingAndGlyphs">800</text>
<line x1="415" y1="328.34000000000003" x2="419.3" y2="328.34000000000003" stroke="#7a7a7a" stroke-width="1" stroke-linecap="butt"/>
<text x="411.26" y="333.88" font-family="Liberation Sans" font-size="13.6" text-anchor="end" fill="#000" textLength="31.16" lengthAdjust="spacingAndGlyphs">1200</text>
<line x1="415" y1="286.42" x2="419.3" y2="286.42" stroke="#7a7a7a" stroke-width="1" stroke-linecap="butt"/>
<text x="411.26" y="291.28" font-family="Liberation Sans" font-size="13.6" text-anchor="end" fill="#000" textLength="31.16" lengthAdjust="spacingAndGlyphs">1600</text>
<line x1="415" y1="244.5" x2="419.3" y2="244.5" stroke="#7a7a7a" stroke-width="1" stroke-linecap="butt"/>
<text x="410.96" y="249.78" font-family="Liberation Sans" font-size="13.6" text-anchor="end" fill="#000" textLength="31.16" lengthAdjust="spacingAndGlyphs">2000</text>
<line x1="440.4" y1="454.1" x2="440.4" y2="456.6" stroke="#7a7a7a" stroke-width="1" stroke-linecap="butt"/>
<text x="438.37" y="469.08" font-family="Liberation Sans" font-size="13.6" text-anchor="middle" fill="#000" textLength="19.45" lengthAdjust="spacingAndGlyphs">-1.0</text>
<line x1="490.57" y1="454.1" x2="490.57" y2="456.6" stroke="#7a7a7a" stroke-width="1" stroke-linecap="butt"/>
<text x="488.94" y="469.08" font-family="Liberation Sans" font-size="13.6" text-anchor="middle" fill="#000" textLength="22.73" lengthAdjust="spacingAndGlyphs">-0.5</text>
<line x1="540.74" y1="454.1" x2="540.74" y2="456.6" stroke="#7a7a7a" stroke-width="1" stroke-linecap="butt"/>
<text x="541.1" y="469.08" font-family="Liberation Sans" font-size="13.6" text-anchor="middle" fill="#000" textLength="7.41" lengthAdjust="spacingAndGlyphs">0</text>
<line x1="590.91" y1="454.1" x2="590.91" y2="456.6" stroke="#7a7a7a" stroke-width="1" stroke-linecap="butt"/>
<text x="590.87" y="469.08" font-family="Liberation Sans" font-size="13.6" text-anchor="middle" fill="#000" textLength="17.02" lengthAdjust="spacingAndGlyphs">0.5</text>
<line x1="641.0799999999999" y1="454.1" x2="641.0799999999999" y2="456.6" stroke="#7a7a7a" stroke-width="1" stroke-linecap="butt"/>
<text x="641.45" y="469.08" font-family="Liberation Sans" font-size="13.6" text-anchor="middle" fill="#000" textLength="15.12" lengthAdjust="spacingAndGlyphs">1.0</text>
<rect x="505.8" y="258.8" width="15.6" height="5.6" fill="#ff0000"/>
<rect x="505.8" y="275.8" width="15.6" height="6.2" fill="#0000ff"/>
<text x="522.4" y="265.2" font-family="Liberation Sans" font-size="11.2" text-anchor="start" fill="#000" textLength="89.2" lengthAdjust="spacingAndGlyphs" stroke="#000" stroke-width="0.25">Multi-year El Niño</text>
<text x="522.4" y="282.4" font-family="Liberation Sans" font-size="11.2" text-anchor="start" fill="#000" textLength="90.4" lengthAdjust="spacingAndGlyphs" stroke="#000" stroke-width="0.25">Multi-year La Niña</text>
<text x="0" y="0" transform="translate(373,396.8) rotate(-90)" font-family="Liberation Sans" font-size="21" text-anchor="start" fill="#000" textLength="100.5" lengthAdjust="spacingAndGlyphs">Occurrences</text>
<text x="474.2" y="492.7" font-family="Liberation Sans" font-size="20" text-anchor="start" fill="#000" textLength="166.4" lengthAdjust="spacingAndGlyphs">NPO Index in JFM(0)</text>
<line x1="68.8" y1="527.3" x2="335.4" y2="527.3" stroke="#9a9a9a" stroke-width="1" stroke-linecap="butt"/>
<line x1="335.4" y1="527.3" x2="335.4" y2="720" stroke="#7a7a7a" stroke-width="1" stroke-linecap="butt"/>
<line x1="68.8" y1="527.3" x2="68.8" y2="720" stroke="#7a7a7a" stroke-width="1" stroke-linecap="butt"/>
<line x1="61.3" y1="720.0" x2="68.8" y2="720.0" stroke="#7a7a7a" stroke-width="1" stroke-linecap="butt"/>
<text x="58.4" y="725.54" font-family="Liberation Sans" font-size="14.8" text-anchor="end" fill="#000" textLength="8.56" lengthAdjust="spacingAndGlyphs">0</text>
<line x1="61.3" y1="671.85" x2="68.8" y2="671.85" stroke="#7a7a7a" stroke-width="1" stroke-linecap="butt"/>
<text x="59.97" y="676.84" font-family="Liberation Sans" font-size="14.8" text-anchor="end" fill="#000" textLength="21.4" lengthAdjust="spacingAndGlyphs">0.2</text>
<line x1="61.3" y1="623.7" x2="68.8" y2="623.7" stroke="#7a7a7a" stroke-width="1" stroke-linecap="butt"/>
<text x="60.95" y="629.19" font-family="Liberation Sans" font-size="14.8" text-anchor="end" fill="#000" textLength="21.4" lengthAdjust="spacingAndGlyphs">0.4</text>
<line x1="61.3" y1="575.55" x2="68.8" y2="575.55" stroke="#7a7a7a" stroke-width="1" stroke-linecap="butt"/>
<text x="61.18" y="581.14" font-family="Liberation Sans" font-size="14.8" text-anchor="end" fill="#000" textLength="21.4" lengthAdjust="spacingAndGlyphs">0.6</text>
<line x1="61.3" y1="527.4" x2="68.8" y2="527.4" stroke="#7a7a7a" stroke-width="1" stroke-linecap="butt"/>
<text x="61.36" y="533.59" font-family="Liberation Sans" font-size="14.8" text-anchor="end" fill="#000" textLength="21.4" lengthAdjust="spacingAndGlyphs">0.8</text>
<rect x="102.35" y="549.4" width="22.3" height="170.60000000000002" fill="#ff0000" stroke="#1a1a1a" stroke-width="1"/>
<line x1="113.5" y1="720" x2="113.5" y2="727.5" stroke="#9a9a9a" stroke-width="1" stroke-linecap="butt"/>
<rect x="146.7" y="575.3" width="22.3" height="144.70000000000005" fill="#ff0000" stroke="#1a1a1a" stroke-width="1"/>
<line x1="157.85" y1="720" x2="157.85" y2="727.5" stroke="#9a9a9a" stroke-width="1" stroke-linecap="butt"/>
<rect x="191.04999999999998" y="662.2" width="22.3" height="57.799999999999955" fill="#ff0000" stroke="#1a1a1a" stroke-width="1"/>
<line x1="202.2" y1="720" x2="202.2" y2="727.5" stroke="#9a9a9a" stroke-width="1" stroke-linecap="butt"/>
<rect x="235.4" y="693.7" width="22.3" height="26.299999999999955" fill="#ff0000" stroke="#1a1a1a" stroke-width="1"/>
<line x1="246.55" y1="720" x2="246.55" y2="727.5" stroke="#9a9a9a" stroke-width="1" stroke-linecap="butt"/>
<rect x="279.75" y="635.6" width="22.3" height="84.39999999999998" fill="#ff0000" stroke="#1a1a1a" stroke-width="1"/>
<line x1="290.9" y1="720" x2="290.9" y2="727.5" stroke="#9a9a9a" stroke-width="1" stroke-linecap="butt"/>
<line x1="61.3" y1="720" x2="335.4" y2="720" stroke="#7a7a7a" stroke-width="1" stroke-linecap="butt"/>
<text x="0" y="0" transform="translate(127.4,734.5) rotate(-60)" font-family="Liberation Sans" font-size="14.5" text-anchor="end" fill="#000">NPO</text>
<text x="0" y="0" transform="translate(161.25,736.3) rotate(-60)" font-family="Liberation Sans" font-size="14.5" text-anchor="end" fill="#000">NPO only</text>
<text x="0" y="0" transform="translate(208.0,736.8) rotate(-60)" font-family="Liberation Sans" font-size="14.5" text-anchor="end" fill="#000">La Niña only</text>
<text x="0" y="0" transform="translate(258.25,734.8) rotate(-60)" font-family="Liberation Sans" font-size="14.5" text-anchor="end" fill="#000">La Niña &amp; NPO</text>
<text x="0" y="0" transform="translate(296.4,735.8) rotate(-60)" font-family="Liberation Sans" font-size="14.5" text-anchor="end" fill="#000">La Niña</text>
<line x1="417.8" y1="528.5" x2="684.5" y2="528.5" stroke="#9a9a9a" stroke-width="1" stroke-linecap="butt"/>
<line x1="684.5" y1="528.5" x2="684.5" y2="719.2" stroke="#7a7a7a" stroke-width="1" stroke-linecap="butt"/>
<line x1="417.8" y1="528.5" x2="417.8" y2="719.2" stroke="#7a7a7a" stroke-width="1" stroke-linecap="butt"/>
<line x1="410.3" y1="719.2" x2="417.8" y2="719.2" stroke="#7a7a7a" stroke-width="1" stroke-linecap="butt"/>
<text x="406.9" y="725.74" font-family="Liberation Sans" font-size="14.8" text-anchor="end" fill="#000" textLength="8.48" lengthAdjust="spacingAndGlyphs">0</text>
<line x1="410.3" y1="671.3000000000001" x2="417.8" y2="671.3000000000001" stroke="#7a7a7a" stroke-width="1" stroke-linecap="butt"/>
<text x="409.26" y="676.84" font-family="Liberation Sans" font-size="14.8" text-anchor="end" fill="#000" textLength="21.19" lengthAdjust="spacingAndGlyphs">0.2</text>
<line x1="410.3" y1="623.4000000000001" x2="417.8" y2="623.4000000000001" stroke="#7a7a7a" stroke-width="1" stroke-linecap="butt"/>
<text x="408.94" y="629.54" font-family="Liberation Sans" font-size="14.8" text-anchor="end" fill="#000" textLength="21.19" lengthAdjust="spacingAndGlyphs">0.4</text>
<line x1="410.3" y1="575.5" x2="417.8" y2="575.5" stroke="#7a7a7a" stroke-width="1" stroke-linecap="butt"/>
<text x="409.07" y="582.24" font-family="Liberation Sans" font-size="14.8" text-anchor="end" fill="#000" textLength="21.19" lengthAdjust="spacingAndGlyphs">0.6</text>
<line x1="410.3" y1="527.6" x2="417.8" y2="527.6" stroke="#7a7a7a" stroke-width="1" stroke-linecap="butt"/>
<text x="409.66" y="534.94" font-family="Liberation Sans" font-size="14.8" text-anchor="end" fill="#000" textLength="21.19" lengthAdjust="spacingAndGlyphs">0.8</text>
<rect x="451.15000000000003" y="628.3" width="22.3" height="90.90000000000009" fill="#0000ff" stroke="#1a1a1a" stroke-width="1"/>
<line x1="462.3" y1="719.2" x2="462.3" y2="726.7" stroke="#9a9a9a" stroke-width="1" stroke-linecap="butt"/>
<rect x="495.6" y="668.9" width="22.3" height="50.30000000000007" fill="#0000ff" stroke="#1a1a1a" stroke-width="1"/>
<line x1="506.75" y1="719.2" x2="506.75" y2="726.7" stroke="#9a9a9a" stroke-width="1" stroke-linecap="butt"/>
<rect x="540.0500000000001" y="576" width="22.3" height="143.20000000000005" fill="#0000ff" stroke="#1a1a1a" stroke-width="1"/>
<line x1="551.2" y1="719.2" x2="551.2" y2="726.7" stroke="#9a9a9a" stroke-width="1" stroke-linecap="butt"/>
<rect x="584.5000000000001" y="678.4" width="22.3" height="40.80000000000007" fill="#0000ff" stroke="#1a1a1a" stroke-width="1"/>
<line x1="595.6500000000001" y1="719.2" x2="595.6500000000001" y2="726.7" stroke="#9a9a9a" stroke-width="1" stroke-linecap="butt"/>
<rect x="628.95" y="535.4" width="22.3" height="183.80000000000007" fill="#0000ff" stroke="#1a1a1a" stroke-width="1"/>
<line x1="640.1" y1="719.2" x2="640.1" y2="726.7" stroke="#9a9a9a" stroke-width="1" stroke-linecap="butt"/>
<line x1="410.3" y1="719.2" x2="684.5" y2="719.2" stroke="#7a7a7a" stroke-width="1" stroke-linecap="butt"/>
<text x="0" y="0" transform="translate(476.5,730.4) rotate(-60)" font-family="Liberation Sans" font-size="14.5" text-anchor="end" fill="#000">NPO</text>
<text x="0" y="0" transform="translate(512.4499999999999,731.8) rotate(-60)" font-family="Liberation Sans" font-size="14.5" text-anchor="end" fill="#000">NPO only</text>
<text x="0" y="0" transform="translate(558.3,733.6) rotate(-60)" font-family="Liberation Sans" font-size="14.5" text-anchor="end" fill="#000">El Niño only</text>
<text x="0" y="0" transform="translate(605.1500000000001,732.8) rotate(-60)" font-family="Liberation Sans" font-size="14.5" text-anchor="end" fill="#000">El Niño &amp; NPO</text>
<text x="0" y="0" transform="translate(649.1,731.3) rotate(-60)" font-family="Liberation Sans" font-size="14.5" text-anchor="end" fill="#000">El Niño</text>
</svg>
</body></html>
